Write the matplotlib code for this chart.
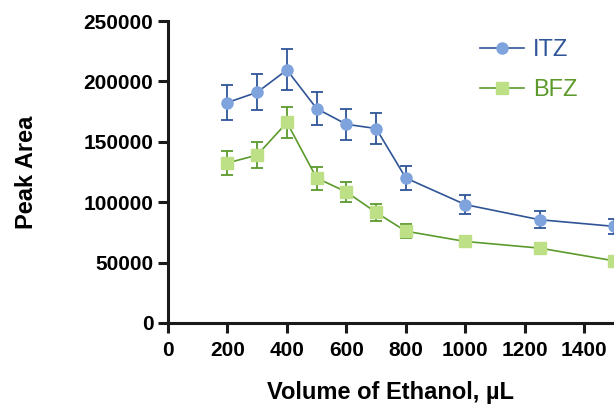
import numpy as np
import matplotlib
matplotlib.use('Agg')
import matplotlib.pyplot as plt
from matplotlib.lines import Line2D

plt.rcParams['font.family'] = ['Liberation Sans', 'DejaVu Sans']

# данные
volume = [200, 300, 400, 500, 600, 700, 800, 1000, 1250, 1500]
itz_mean = [182500, 191000, 209500, 177500, 164500, 161000, 120000, 98000, 85500, 80000]
itz_err = [14500, 15000, 17000, 14000, 13000, 13000, 10000, 8000, 7000, 6500]
bfz_mean = [132500, 139000, 166000, 120000, 108500, 91500, 76000, 67500, 62000, 51500]
bfz_err = [10000, 10500, 13000, 9500, 8300, 7200, 5800, 4000, 3000, 2000]

itz_line = '#2f5597'
itz_face = '#7fa3dc'
bfz_line = '#5b9a2b'
bfz_face = '#bddf85'

fig = plt.figure(figsize=(6.14, 4.04), dpi=100)
ax = fig.add_axes([0.2736, 0.2005, 0.7264, 0.7475])

ax.errorbar(volume, itz_mean, yerr=itz_err, color=itz_line, lw=1.2,
            marker='o', ms=8, mfc=itz_face, mec=itz_face,
            capsize=4, capthick=1.3, elinewidth=1.3, clip_on=False)
ax.errorbar(volume, bfz_mean, yerr=bfz_err, color=bfz_line, lw=1.2,
            marker='s', ms=8, mfc=bfz_face, mec=bfz_face,
            capsize=4, capthick=1.3, elinewidth=1.3, clip_on=False)

ax.set_xlim(0, 1500)
ax.set_ylim(0, 250000)
ax.set_xticks(range(0, 1401, 200))
ax.set_yticks(range(0, 250001, 50000))

for s in ['top', 'right']:
    ax.spines[s].set_visible(False)
for s in ['left', 'bottom']:
    ax.spines[s].set_linewidth(2.2)
    ax.spines[s].set_color('#1a1a1a')
ax.tick_params(width=2.2, length=7, color='#1a1a1a', labelsize=15)
ax.tick_params(axis='x', pad=6)
ax.tick_params(axis='y', pad=3.5)
for lab in ax.get_xticklabels() + ax.get_yticklabels():
    lab.set_fontweight('bold')

ax.set_xlabel('Volume of Ethanol, µL', fontsize=17, fontweight='bold', labelpad=15)
ax.set_ylabel('Peak Area', fontsize=17, fontweight='bold', labelpad=33)

handles = [
    Line2D([], [], color=itz_line, lw=1.2, marker='o', ms=8, mfc=itz_face, mec=itz_face),
    Line2D([], [], color=bfz_line, lw=1.2, marker='s', ms=8, mfc=bfz_face, mec=bfz_face),
]
leg = ax.legend(handles, ['ITZ', 'BFZ'], loc='upper left', bbox_to_anchor=(0.651, 1.01),
                frameon=False, fontsize=17, handlelength=1.9, handletextpad=0.35,
                labelspacing=0.75)
for txt, c in zip(leg.get_texts(), [itz_line, bfz_line]):
    txt.set_color(c)

fig.savefig('out.png', dpi=100)
